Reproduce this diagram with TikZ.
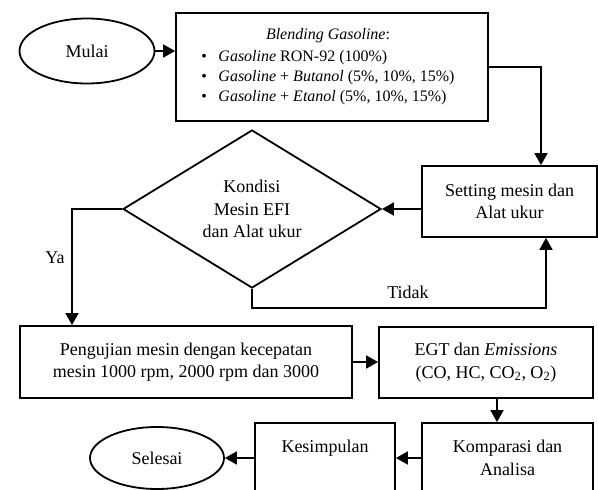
\documentclass[tikz,border=0pt]{standalone}
\usepackage{fontspec}
\setmainfont{Liberation Serif}
\usetikzlibrary{shapes.geometric,arrows.meta}
\begin{document}
\begin{tikzpicture}[x=1pt,y=-1pt,
 every node/.style={font=\fontsize{18}{22.5}\selectfont},
 box/.style={draw,line width=1.8pt,rectangle,align=center,inner sep=0pt},
 term/.style={draw,line width=1.8pt,ellipse,inner sep=0pt},
 dec/.style={draw,line width=1.8pt,diamond,inner sep=0pt,align=center},
 arr/.style={line width=1.8pt,-{Triangle[length=12pt,width=13pt]}},
 plain/.style={draw=none,inner sep=0pt}]
\useasboundingbox (0,0) rectangle (598,490);
\clip (0,0) rectangle (598,490);

\node[term,minimum width=135pt,minimum height=65pt] (mulai) at (87,51) {Mulai};
\node[box,minimum width=312pt,minimum height=108pt] (blend) at (332,67) {};
\node[plain,font=\fontsize{16}{20}\selectfont] (blendtxt) at (328,66) {%
 \begin{tabular}{@{}l@{}}
 \multicolumn{1}{c}{\textit{Blending Gasoline}:}\\[2pt]
 \makebox[17pt][l]{\textbullet}\textit{Gasoline} RON-92 (100\%)\\
 \makebox[17pt][l]{\textbullet}\textit{Gasoline} + \textit{Butanol} (5\%, 10\%, 15\%)\\
 \makebox[17pt][l]{\textbullet}\textit{Gasoline} + \textit{Etanol} (5\%, 10\%, 15\%)
 \end{tabular}};
\node[box,minimum width=175pt,minimum height=71pt] (setting) at (509.5,201.5) {Setting mesin dan\\Alat ukur};
\node[dec,minimum width=258pt,minimum height=158pt] (kondisi) at (252,209) {Kondisi\\Mesin EFI\\dan Alat ukur};
\node[box,minimum width=332pt,minimum height=72pt] (uji) at (186,362) {Pengujian mesin dengan kecepatan\\mesin 1000 rpm, 2000 rpm dan 3000};
\node[box,minimum width=214pt,minimum height=71pt] (egt) at (486,362.5) {EGT dan \textit{Emissions}\\(CO, HC, CO\textsubscript{2}, O\textsubscript{2})};
\node[box,minimum width=171pt,minimum height=70pt] (komp) at (507.5,458) {Komparasi dan\\Analisa};
\node[box,minimum width=140pt,minimum height=70pt] (kes) at (325,458) {Kesimpulan\\\mbox{}};
\node[term,minimum width=134pt,minimum height=62pt] (selesai) at (157,458) {Selesai};

\node[plain] (ya) at (55,258) {Ya};
\node[plain] (tidak) at (408,292) {Tidak};

\draw[arr] (mulai.east) -- (mulai.east -| blend.west);
\draw[arr] (blend.east) -| ([xshift=31.5pt]setting.north);
\draw[arr] (setting.west |- kondisi.east) -- (kondisi.east);
\draw[arr] (kondisi.west) -| ([xshift=-114pt]uji.north);
\draw[arr] (kondisi.south) -- ++(0,19) -| ([xshift=36.5pt]setting.south);
\draw[arr] (uji.east) -- (uji.east -| egt.west);
\draw[arr] ([xshift=11pt]egt.south) -- ([xshift=11pt]egt.south |- komp.north);
\draw[arr] (komp.west) -- (kes.east);
\draw[arr] (kes.west) -- (selesai.east);
\end{tikzpicture}
\end{document}
